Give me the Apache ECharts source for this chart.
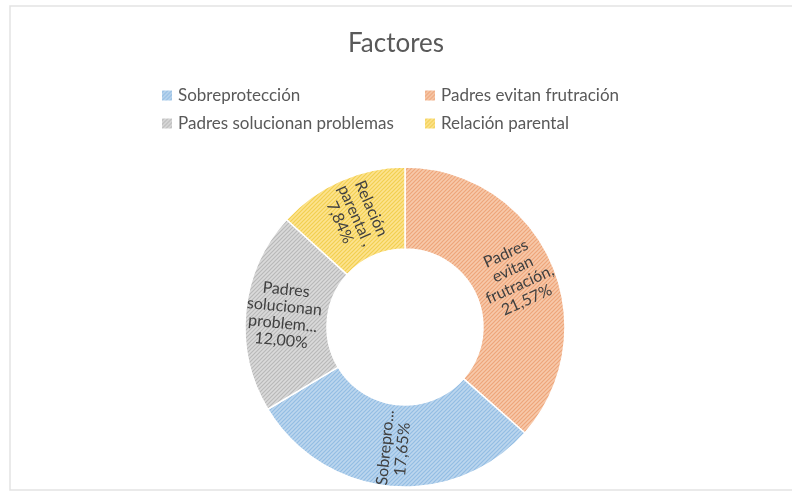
<!DOCTYPE html>
<html>
	<head>
		<meta charset="utf-8">
		<title>Factores</title>
		<script src="https://cdn.jsdelivr.net/npm/echarts@6/dist/echarts.min.js"></script>
		<style>
			html, body { margin: 0; padding: 0; background: #fff; }
		</style>
	</head>
	<body>
		<div id="main" style="width: 792px;height:495px;"></div>
		<script>
			// legend order
			var categories = ['Sobreprotección', 'Padres evitan frutración', 'Padres solucionan problemas', 'Relación parental'];
			var values = [17.65, 21.57, 12.00, 7.84];
			// text shown inside each slice (Excel truncated some)
			var sliceNames = ['Sobrepro...', 'Padres\nevitan\nfrutración,', 'Padres\nsolucionan\nproblem...', 'Relación\nparental ,'];
			// clockwise from 12 o'clock
			var sliceOrder = [1, 0, 2, 3];

			var baseColors = ['#bcd6ee', '#f7c9aa', '#dadada', '#fde38f'];
			var lineColors = ['#93bde3', '#eea57a', '#b9b9b9', '#f2cf50'];

			// diagonal hatch like the excel fill
			function hatch(base, line) {
				var c = document.createElement('canvas');
				c.width = 4;
				c.height = 4;
				var ctx = c.getContext('2d');
				ctx.fillStyle = base;
				ctx.fillRect(0, 0, 4, 4);
				ctx.strokeStyle = line;
				ctx.lineWidth = 1.2;
				ctx.beginPath();
				ctx.moveTo(-1, 5); ctx.lineTo(5, -1);
				ctx.moveTo(-1, 1); ctx.lineTo(1, -1);
				ctx.moveTo(3, 5); ctx.lineTo(5, 3);
				ctx.stroke();
				return { image: c, repeat: 'repeat' };
			}

			var pieData = sliceOrder.map(function(i) {
				return {
					name: categories[i],
					value: values[i],
					label: { formatter: sliceNames[i] + '\n' + values[i].toFixed(2).replace('.', ',') + '%' },
					itemStyle: { color: hatch(baseColors[i], lineColors[i]) }
				};
			});

			var myChart = echarts.init(document.getElementById('main'));
			var font = 'Lato, "Open Sans", sans-serif';
			var legendText = { fontFamily: font, fontSize: 17, color: '#595959' };
			var option = {
				animation: false,
				backgroundColor: '#ffffff',
				title: {
					text: 'Factores',
					left: 'center',
					top: 26,
					textStyle: { fontFamily: font, fontSize: 26, fontWeight: 'normal', color: '#595959' }
				},
				legend: [{
					orient: 'vertical',
					left: 155,
					top: 82,
					itemWidth: 12,
					itemHeight: 12,
					itemGap: 11,
					icon: 'rect',
					data: [categories[0], categories[2]],
					textStyle: legendText
				}, {
					orient: 'vertical',
					left: 418,
					top: 82,
					itemWidth: 12,
					itemHeight: 12,
					itemGap: 11,
					icon: 'rect',
					data: [categories[1], categories[3]],
					textStyle: legendText
				}],
				graphic: [{
					type: 'rect',
					shape: { x: 10, y: 6, width: 800, height: 484 },
					style: { fill: 'none', stroke: '#e3e3e3', lineWidth: 1.5 },
					silent: true
				}],
				series: [{
					name: 'Factores',
					type: 'pie',
					center: [405, 327],
					radius: [78, 160],
					startAngle: 90,
					clockwise: true,
					avoidLabelOverlap: false,
					itemStyle: { borderColor: '#ffffff', borderWidth: 1.5 },
					label: {
						position: 'inside',
						rotate: 'radial',
						fontFamily: font,
						fontSize: 16,
						lineHeight: 17,
						color: '#404040',
						align: 'center'
					},
					labelLine: { show: false },
					data: pieData
				}]
			};
			myChart.setOption(option);
		</script>
	</body>
</html>
